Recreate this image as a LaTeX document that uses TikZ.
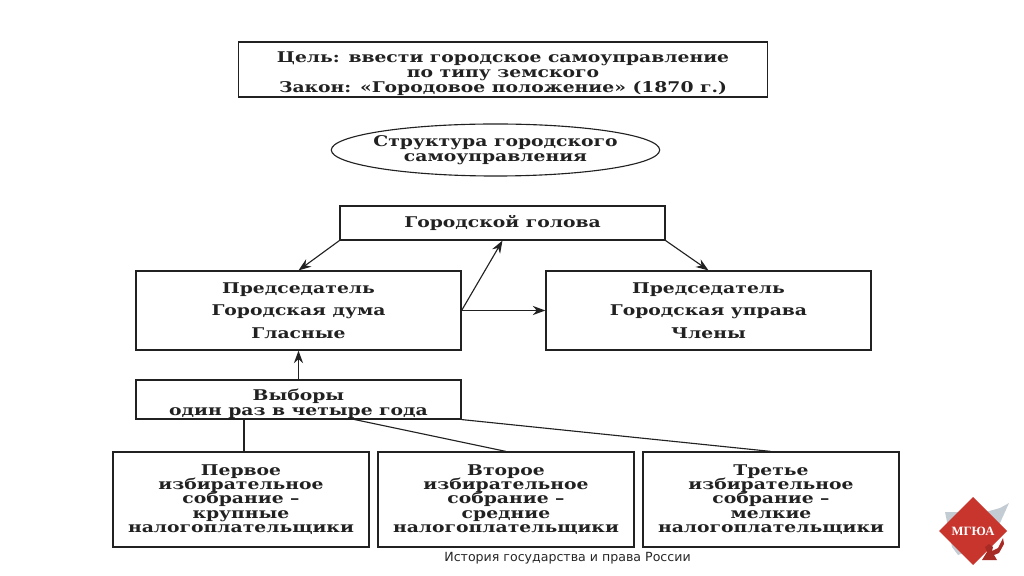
\documentclass[tikz,border=0pt]{standalone}
\usepackage{fontspec}
\setmainfont[FakeStretch=1.27]{DejaVu Serif}
\newfontfamily\footfont{DejaVu Sans}
\newfontfamily\logofont{Liberation Serif}
\usetikzlibrary{arrows.meta,shapes.geometric}

\definecolor{inkgray}{gray}{0.13}
\definecolor{logored}{HTML}{C8352D}
\definecolor{logodark}{HTML}{A82A24}
\definecolor{winggray}{HTML}{C3CCD3}

\newcommand{\boxfont}[1]{\bfseries\fontsize{10.5}{#1}\selectfont\lineskiplimit=-6pt\relax}

\tikzset{
  box/.style={draw=inkgray, line width=0.8pt, align=center, inner sep=0pt, text=inkgray,
    font=\boxfont{10.7}},
  link/.style={draw=inkgray, line width=0.8pt},
  arrow/.style={link, -{Stealth[length=9pt,width=6.5pt]}},
}

\begin{document}
\begin{tikzpicture}[x=0.025cm, y=-0.025cm]
\useasboundingbox (0,0) rectangle (1024,576);

% Goal and law
\node[box, minimum width=13.2cm, minimum height=1.375cm] (goal) at (503,69.5)
  {\rule{0pt}{14pt}Цель: ввести городское самоуправление\\по типу земского\\Закон: «Городовое положение» (1870~г.)};

% Title of the structure
\node[box, ellipse, inner sep=-0.15cm, minimum width=8.2cm, minimum height=1.3cm] (title) at (495.5,150)
  {Структура городского\\самоуправления};

% Head of the city
\node[box, minimum width=8.125cm, minimum height=0.85cm] (golova) at (502.5,223) {Городской голова};

% Duma and uprava
\node[box, minimum width=8.125cm, minimum height=1.975cm, font=\boxfont{16}] (duma) at (298.5,310.5)
  {Председатель\\Городская дума\\Гласные};
\node[box, minimum width=8.125cm, minimum height=1.975cm, font=\boxfont{16}] (uprava) at (708.5,310.5)
  {Председатель\\Городская управа\\Члены};

% Elections
\node[box, minimum width=8.125cm, minimum height=0.975cm, font=\boxfont{11}] (vybory) at (298.5,399.5)
  {\rule{0pt}{14pt}Выборы\\один раз в четыре года};

% Electoral assemblies
\node[box, minimum width=6.4cm, minimum height=2.375cm, font=\boxfont{10.2}] (first) at (241,499.5)
  {Первое\\избирательное\\собрание --\\крупные\\налогоплательщики};
\node[box, minimum width=6.4cm, minimum height=2.375cm, font=\boxfont{10.2}] (second) at (506,499.5)
  {Второе\\избирательное\\собрание --\\средние\\налогоплательщики};
\node[box, minimum width=6.4cm, minimum height=2.375cm, font=\boxfont{10.2}] (third) at (771,499.5)
  {Третье\\избирательное\\собрание --\\мелкие\\налогоплательщики};

% Arrows between the bodies
\draw[arrow] (golova.south west) -- (duma.north);
\draw[arrow] (golova.south east) -- (uprava.north);
\draw[arrow] (duma.east) -- (golova.south);
\draw[arrow] (duma.east) -- (uprava.west);
\draw[arrow] (vybory.north) -- (duma.south);

% Lines to the assemblies
\coordinate (vybory1) at (244,419);
\coordinate (first1) at (244,452);
\coordinate (vybory2) at (352,419);
\draw[link] (vybory1) -- (first1);
\draw[link] (vybory2) -- (second.north);
\draw[link] (vybory.south east) -- (third.north);

% Footer
\node[font=\footfont\fontsize{8.95}{10}\selectfont, text=black!85] (foot) at (567.5,558)
  {История государства и права России};

% Logo
\fill[winggray] (945,512) -- (958,512) -- (975,515) -- (1000,508) -- (1009,503) -- (1000,523) -- (985,545) -- (958,555) -- (952,547) -- cycle;
\fill[logored] (973,497) -- (1007,531) -- (973,565) -- (939,531) -- cycle;
\fill[logodark] (982,560) -- (987,552) -- (985,547) -- (989,544) -- (993,547) -- (992,551) -- (998,548) -- (1003,538) -- (1004,544) -- (999,553) -- (994,555) -- (997,560) -- cycle;
\node[font=\logofont\bfseries\fontsize{9}{10}\selectfont, text=white] (logo) at (973,531) {МГЮА};

\end{tikzpicture}
\end{document}
